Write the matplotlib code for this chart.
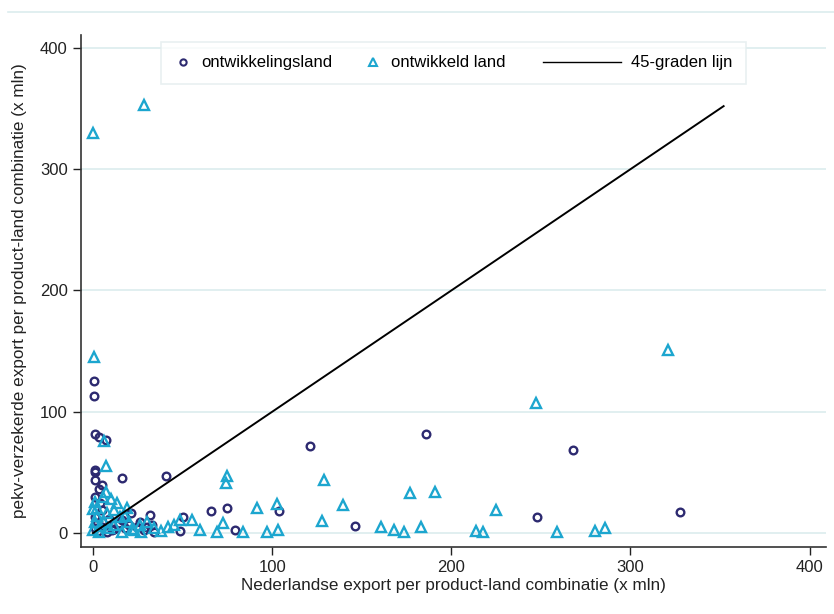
import matplotlib.pyplot as plt
from matplotlib.lines import Line2D

plt.rcParams['font.family'] = ['Liberation Sans', 'DejaVu Sans']

# ontwikkelingsland (circles)
dev_ing_x = [0.5, 0.5, 1, 3.5, 7, 1, 1, 1, 5, 3.5, 1, 4, 5, 1, 9, 16, 1, 5, 8, 10.6,
             14.5, 18, 21, 24.5, 28.5, 32, 33, 34, 16, 41, 48.5, 50, 66, 75, 79, 104,
             121, 146, 186, 248, 268, 327.5, 2, 3, 12, 20, 26, 30]
dev_ing_y = [125, 113, 82, 79, 77, 52, 50, 44, 40, 36, 30, 25, 19, 13, 12, 11, 4, 5, 1, 2.5,
             8, 4, 16.5, 5, 2.5, 15, 6.6, 1, 45, 47, 1.5, 13, 18, 21, 2.5, 18,
             72, 6, 82, 13, 68.5, 17, 8, 2, 3, 7, 9, 5]

# ontwikkeld land (triangles)
dev_x = [0, 28.5, 0.5, 6, 7, 7, 5.5, 1, 2, 13.4, 19, 12, 15, 8, 1, 6, 11.7, 20, 23, 26,
         30, 0, 3.4, 16, 27, 34, 42, 48.5, 55, 60, 69, 72.5, 74, 75, 84, 91.5, 97, 102.6,
         103, 128, 129, 139.5, 161, 168, 173.5, 177, 183, 191, 214, 217.6, 225, 247, 259,
         280, 286, 321, 0, 2, 9, 4, 18, 22, 38, 45, 10]
dev_y = [330, 353, 145, 76, 55, 34, 30, 26, 21, 25, 21, 19, 13, 16.5, 9, 9, 6.6, 9, 2.5, 6.6,
         9, 2.5, 1, 1, 1, 4, 5, 11, 11, 2.5, 1, 8, 41, 47, 1, 21, 1, 24,
         2.5, 10, 44, 23, 5, 2.5, 1, 33, 5, 34, 2, 1, 19, 107, 1,
         2, 4, 151, 20, 14, 4, 6, 14, 3, 2, 7, 28]

line_x = [0, 352]
line_y = [0, 352]

navy = '#2d2a70'
cyan = '#1ca6cf'
grid_col = '#dcecee'


class MarkerHandler:
    def __init__(self, marker, color, size):
        self.marker = marker
        self.color = color
        self.size = size

    def legend_artist(self, legend, orig_handle, fontsize, handlebox):
        x0, y0 = handlebox.xdescent, handlebox.ydescent
        w, h = handlebox.width, handlebox.height
        m = Line2D([x0 + w / 2], [y0 + h / 2], linestyle='none', marker=self.marker,
                   markersize=self.size, markerfacecolor='none', markeredgecolor=self.color,
                   markeredgewidth=1.5, transform=handlebox.get_transform())
        handlebox.add_artist(m)
        return m


class LongLineHandler:
    def legend_artist(self, legend, orig_handle, fontsize, handlebox):
        x0, y0 = handlebox.xdescent, handlebox.ydescent
        w, h = handlebox.width, handlebox.height
        ln = Line2D([x0 + w - 56, x0 + w], [y0 + h / 2, y0 + h / 2], color='black',
                    linewidth=1.0, transform=handlebox.get_transform())
        handlebox.add_artist(ln)
        return ln


fig = plt.figure(figsize=(8.34, 6.14), dpi=100)
ax = fig.add_axes([0.0971, 0.1091, 0.893, 0.834])

# thin rule from the cropped page header
fig.add_artist(Line2D([0.01, 1.0], [0.981, 0.981], transform=fig.transFigure,
                      color=grid_col, linewidth=1.2))

for v in [0, 100, 200, 300, 400]:
    ax.axhline(v, color=grid_col, linewidth=1.2, zorder=0)

h1, = ax.plot(dev_ing_x, dev_ing_y, linestyle='none', marker='o', markersize=5.5,
              markerfacecolor='none', markeredgecolor=navy, markeredgewidth=1.7)
h2, = ax.plot(dev_x, dev_y, linestyle='none', marker='^', markersize=7,
              markerfacecolor='none', markeredgecolor=cyan, markeredgewidth=1.7)
h3, = ax.plot(line_x, line_y, color='black', linewidth=1.4)

ax.set_xlim(-6.7, 409)
ax.set_ylim(-11.5, 410.7)
ax.set_xticks([0, 100, 200, 300, 400])
ax.set_yticks([0, 100, 200, 300, 400])
ax.tick_params(direction='out', length=6, width=1, labelsize=12, colors='#222222')
for s in ['top', 'right']:
    ax.spines[s].set_visible(False)
for s in ['left', 'bottom']:
    ax.spines[s].set_color('#333333')
    ax.spines[s].set_linewidth(1.2)

ax.set_xlabel('Nederlandse export per product-land combinatie (x mln)', fontsize=12.3,
              color='#222222', labelpad=2)
ax.set_ylabel('pekv-verzekerde export per product-land combinatie (x mln)', fontsize=12.3,
              color='#222222', labelpad=9)

leg = ax.legend([h1, h2, h3],
                ['ontwikkelingsland', 'ontwikkeld land' + '\u2003' * 4, '45-graden lijn'],
                handler_map={h1: MarkerHandler('o', navy, 4.5),
                             h2: MarkerHandler('^', cyan, 5.5),
                             h3: LongLineHandler()},
                loc='upper center', bbox_to_anchor=(0.5, 0.986), ncol=3,
                handlelength=1.0, handletextpad=0.58, columnspacing=1.96,
                fontsize=12, frameon=True, fancybox=False, borderpad=0.8,
                borderaxespad=0)
leg.get_frame().set_edgecolor('#e3ecee')
leg.get_frame().set_linewidth(1.2)

plt.savefig('out.png', dpi=100)
